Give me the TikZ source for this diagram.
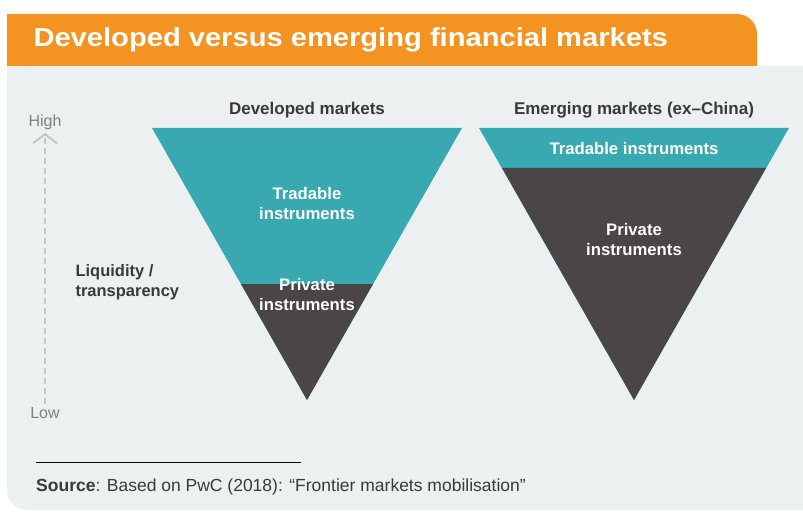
\documentclass[tikz,border=0pt]{standalone}
\usepackage{fontspec}
\setmainfont{Liberation Sans}
\usetikzlibrary{arrows.meta}
\definecolor{brandorange}{HTML}{F39322}
\definecolor{panelgray}{HTML}{EDF0F1}
\definecolor{tealfill}{HTML}{38A9B1}
\definecolor{darkfill}{HTML}{4A4546}
\definecolor{textdark}{HTML}{3A3A3A}
\definecolor{axisgray}{HTML}{C4C6C8}

\begin{document}
\begin{tikzpicture}[x=1pt, y=-1pt]
    \tikzset{
        heading/.style={font=\bfseries\fontsize{17}{20}\selectfont, text=textdark},
        inside/.style={font=\bfseries\fontsize{16.7}{20}\selectfont, text=white, align=center},
        axislabel/.style={font=\fontsize{16}{18}\selectfont, text=gray},
        axisarrow/.style={draw=axisgray, line width=2pt, dash pattern=on 6pt off 4pt,
            -{Straight Barb[length=9pt, width=24pt, line width=2pt]}},
    }
    \useasboundingbox (0,0) rectangle (803,513);

    % Panel
    \fill[panelgray] (803,66) -- (7,66) [rounded corners=20pt] -- (7,510) [sharp corners] -- (803,510) -- cycle;
    \fill[brandorange] (7,66) -- (7,14) [rounded corners=20pt] -- (757,14) [sharp corners] -- (757,66) -- cycle;
    \node[anchor=west, text=white, font=\bfseries\fontsize{26}{30}\selectfont\addfontfeature{FakeStretch=1.12}] (title) at (30,40)
        {Developed versus emerging financial markets};

    % Developed markets
    \coordinate (dl) at (152,128);
    \coordinate (dr) at (462,128);
    \coordinate (dtip) at (307,400);
    \fill[tealfill] (dl) -- (dr) -- (dtip) -- cycle;
    \fill[darkfill] (241,284) -- (373,284) -- (dtip) -- cycle;
    \node[heading] (devhead) at (307,110) {Developed markets};
    \node[inside] (devtrade) at (307,204) {Tradable\\instruments};
    \node[inside] (devpriv) at (307,295) {Private\\instruments};

    % Emerging markets
    \coordinate (el) at (479,128);
    \coordinate (er) at (789,128);
    \coordinate (etip) at (634,400);
    \fill[tealfill] (el) -- (er) -- (etip) -- cycle;
    \fill[darkfill] (502,168) -- (766,168) -- (etip) -- cycle;
    \node[heading] (emhead) at (634,110) {Emerging markets (ex–China)};
    \node[inside] (emtrade) at (634,149) {Tradable instruments};
    \node[inside] (empriv) at (634,240) {Private\\instruments};

    % Liquidity axis
    \node[axislabel] (high) at (45,122) {High};
    \node[axislabel] (low) at (45,413) {Low};
    \draw[axisarrow] (low) -- (high);
    \node[heading, anchor=west, align=left, font=\bfseries\fontsize{16.5}{20}\selectfont] (liq) at (72,282)
        {Liquidity /\\transparency};

    % Source
    \draw[black, line width=0.8pt] (36,462) -- (301,462);
    \node[anchor=west, text=textdark, font=\fontsize{17.5}{20}\selectfont, inner sep=0pt] (source) at (36,487)
        {\textbf{Source}: Based on PwC (2018): “Frontier markets mobilisation”};
\end{tikzpicture}
\end{document}
